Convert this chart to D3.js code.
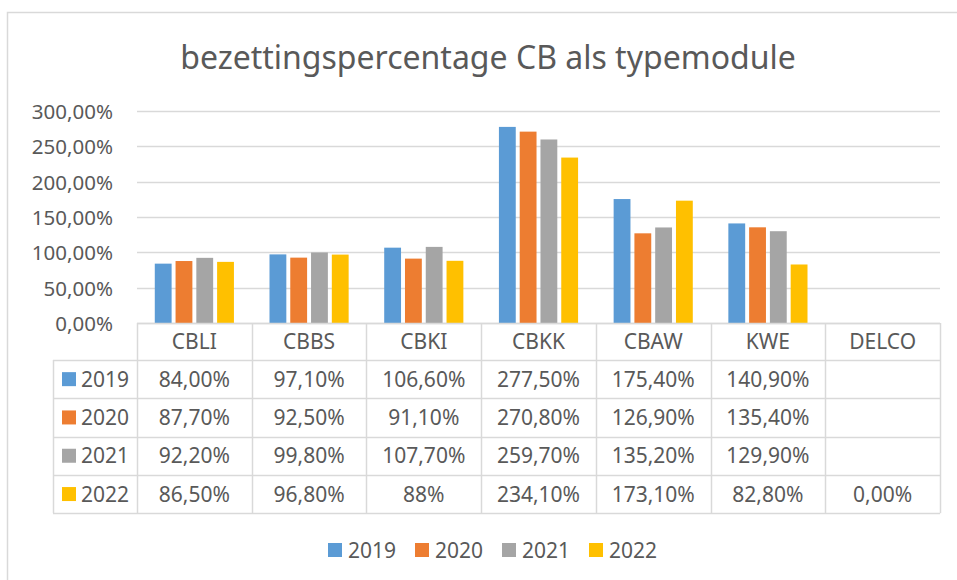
<!DOCTYPE html>
<html>
<head>
<meta charset="utf-8">
<script src="https://cdn.jsdelivr.net/npm/d3@7"></script>
<style>
  body { margin: 0; background: #fff; }
  svg text { font-family: "Noto Sans", "Open Sans", sans-serif; fill: #595959; }
</style>
</head>
<body>
<div id="chart"></div>
<script>
// chart data
var categories = ["CBLI", "CBBS", "CBKI", "CBKK", "CBAW", "KWE", "DELCO"];
var years = ["2019", "2020", "2021", "2022"];
var colors = ["#5B9BD5", "#ED7D31", "#A5A5A5", "#FFC000"];

var values2019 = [0.84, 0.971, 1.066, 2.775, 1.754, 1.409, null];
var values2020 = [0.877, 0.925, 0.911, 2.708, 1.269, 1.354, null];
var values2021 = [0.922, 0.998, 1.077, 2.597, 1.352, 1.299, null];
var values2022 = [0.865, 0.968, 0.88, 2.341, 1.731, 0.828, 0];

// labels as shown in the data table
var labels2019 = ["84,00%", "97,10%", "106,60%", "277,50%", "175,40%", "140,90%", ""];
var labels2020 = ["87,70%", "92,50%", "91,10%", "270,80%", "126,90%", "135,40%", ""];
var labels2021 = ["92,20%", "99,80%", "107,70%", "259,70%", "135,20%", "129,90%", ""];
var labels2022 = ["86,50%", "96,80%", "88%", "234,10%", "173,10%", "82,80%", "0,00%"];

var yTicks = [0, 0.5, 1, 1.5, 2, 2.5, 3];

var seriesValues = [values2019, values2020, values2021, values2022];
var seriesLabels = [labels2019, labels2020, labels2021, labels2022];

var width = 957, height = 580;
var gridColor = "#d9d9d9";

var svg = d3.select("#chart").append("svg")
    .attr("width", width)
    .attr("height", height);

// chart area border (only top and left visible in the picture)
svg.append("path")
    .attr("d", "M7.5," + height + "V12.5H" + width)
    .attr("fill", "none")
    .attr("stroke", gridColor)
    .attr("stroke-width", 1.5);

svg.append("text")
    .attr("x", 488)
    .attr("y", 69)
    .attr("text-anchor", "middle")
    .attr("font-size", 32)
    .text("bezettingspercentage CB als typemodule");

var nl = d3.formatLocale({decimal: ",", thousands: ".", grouping: [3], currency: ["€", ""]});
var pct = nl.format(".2%");

var x = d3.scaleBand().domain(categories).range([137, 940]);
var bw = x.bandwidth();
var x1 = d3.scaleBand().domain(years)
    .range([bw * 0.155, bw * 0.845])
    .paddingInner(0.19);
var y = d3.scaleLinear().domain([0, 3]).range([323, 111]);

// gridlines
svg.append("g").selectAll("line").data(yTicks).enter().append("line")
    .attr("x1", 137).attr("x2", 940)
    .attr("y1", function(d){ return Math.round(y(d)) + 0.5; })
    .attr("y2", function(d){ return Math.round(y(d)) + 0.5; })
    .attr("stroke", gridColor)
    .attr("stroke-width", 1.5);

// y axis labels
var yAxis = d3.axisLeft(y).tickValues(yTicks).tickFormat(pct).tickSize(0).tickPadding(0);
var yg = svg.append("g").attr("transform", "translate(113,0)").call(yAxis);
yg.select(".domain").remove();
yg.selectAll("text")
    .attr("font-size", 20.5)
    .attr("fill", "#595959")
    .attr("font-family", null)
    .attr("dy", "0.36em");

// bars
var groups = svg.append("g").selectAll("g").data(years).enter().append("g")
    .attr("fill", function(d, i){ return colors[i]; });

groups.selectAll("rect")
    .data(function(d, i){
        return seriesValues[i].map(function(v, j){ return {year: d, cat: categories[j], value: v}; });
    })
    .enter()
    .filter(function(d){ return d.value != null && d.value > 0; })
    .append("rect")
    .attr("x", function(d){ return x(d.cat) + x1(d.year); })
    .attr("y", function(d){ return y(d.value); })
    .attr("width", x1.bandwidth())
    .attr("height", function(d){ return y(0) - y(d.value); });

// data table
var rowTop = 360, rowH = 38.3, headTop = 323;
var keyLeft = 53;
var tbl = svg.append("g")
    .attr("stroke", gridColor)
    .attr("stroke-width", 1.5)
    .attr("fill", "none");

var tableBottom = rowTop + rowH * years.length;

// horizontal lines
tbl.append("line").attr("x1", 137).attr("x2", 940).attr("y1", headTop + 0.5).attr("y2", headTop + 0.5);
d3.range(years.length + 1).forEach(function(i){
    var yy = Math.round(rowTop + i * rowH) + 0.5;
    tbl.append("line").attr("x1", keyLeft).attr("x2", 940).attr("y1", yy).attr("y2", yy);
});
// vertical lines
categories.concat(["end"]).forEach(function(c, i){
    var xx = Math.round(137 + i * bw) + 0.5;
    tbl.append("line").attr("x1", xx).attr("x2", xx).attr("y1", headTop).attr("y2", tableBottom);
});
tbl.append("line").attr("x1", keyLeft + 0.5).attr("x2", keyLeft + 0.5).attr("y1", rowTop).attr("y2", tableBottom);

// header text
svg.append("g").selectAll("text").data(categories).enter().append("text")
    .attr("x", function(d){ return x(d) + bw / 2; })
    .attr("y", (headTop + rowTop) / 2)
    .attr("dy", "0.36em")
    .attr("text-anchor", "middle")
    .attr("font-size", 21)
    .text(function(d){ return d; });

// rows
years.forEach(function(yr, i){
    var cy = rowTop + rowH * (i + 0.5);
    svg.append("rect")
        .attr("x", 62).attr("y", cy - 7)
        .attr("width", 14).attr("height", 14)
        .attr("fill", colors[i]);
    svg.append("text")
        .attr("x", 81).attr("y", cy)
        .attr("dy", "0.36em")
        .attr("font-size", 21)
        .text(yr);
    svg.append("g").selectAll("text").data(seriesLabels[i]).enter().append("text")
        .attr("x", function(d, j){ return x(categories[j]) + bw / 2; })
        .attr("y", cy)
        .attr("dy", "0.36em")
        .attr("text-anchor", "middle")
        .attr("font-size", 21)
        .text(function(d){ return d; });
});

// bottom legend
var legend = svg.append("g").selectAll("g").data(years).enter().append("g")
    .attr("transform", function(d, i){ return "translate(" + (328 + i * 87) + ",550)"; });
legend.append("rect")
    .attr("x", 0).attr("y", -7)
    .attr("width", 14).attr("height", 14)
    .attr("fill", function(d, i){ return colors[i]; });
legend.append("text")
    .attr("x", 20).attr("dy", "0.36em")
    .attr("font-size", 21)
    .text(function(d){ return d; });
</script>
</body>
</html>
